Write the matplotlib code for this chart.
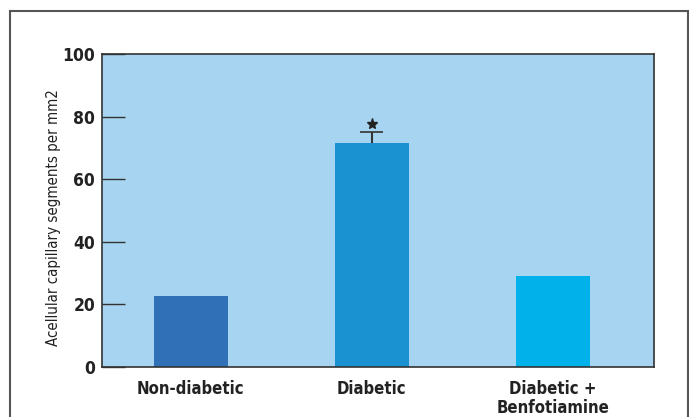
import matplotlib
matplotlib.use("Agg")
import matplotlib.pyplot as plt
from matplotlib.patches import Rectangle

categories = ["Non-diabetic", "Diabetic", "Diabetic +\nBenfotiamine"]
values = [22.7, 71.7, 29.1]
errors = [0, 3.3, 0]
bar_colors = ["#3070b6", "#1a91d1", "#00b1ea"]
yticks = [0, 20, 40, 60, 80, 100]

plt.rcParams['font.family'] = ['DejaVu Sans']
plt.rcParams['font.stretch'] = 'condensed'

fig = plt.figure(figsize=(6.89, 4.17), dpi=100)
ax = fig.add_axes([102/689, 50/417, 552/689, 313/417])
ax.set_facecolor("#a7d5f1")

x = list(range(len(categories)))
ax.bar(x, values, width=0.41, color=bar_colors, zorder=2)
xe = x[1]
ax.vlines(xe, values[1], values[1] + errors[1], color="#333333", linewidth=1.5, zorder=3)
ax.hlines(values[1] + errors[1], xe - 0.063, xe + 0.063, color="#333333", linewidth=1.2, zorder=3)
ax.plot([xe], [values[1] + errors[1] + 2.6], marker='*', color='#222222',
        markersize=8, zorder=3)

ax.set_xlim(-0.49, 2.56)
ax.set_ylim(0, 100)
ax.set_yticks(yticks)
ax.set_yticklabels([str(t) for t in yticks], fontsize=12.5, fontweight='bold',
                   color='#222222', stretch='condensed')
ax.tick_params(axis='y', direction='in', length=16.5, width=1, color='#333333', pad=5)
ax.set_xticks(x)
ax.set_xticklabels(categories, fontsize=12, color='#222222', linespacing=1.1,
                   fontweight='bold', stretch='condensed')
ax.tick_params(axis='x', length=0, pad=9)
for s in ax.spines.values():
    s.set_color('#333333')
    s.set_linewidth(1.2)
ax.set_ylabel("Acellular capillary segments per mm2", fontsize=10.8, color='#222222',
              stretch='condensed')
ax.yaxis.set_label_coords(-0.074, 0.476)

frame = Rectangle((10/689, -0.1), 678/689, 1.1 - 11/417, transform=fig.transFigure,
                  fill=False, edgecolor='#555555', linewidth=1.5)
fig.patches.append(frame)

fig.savefig("out.png", dpi=100)
